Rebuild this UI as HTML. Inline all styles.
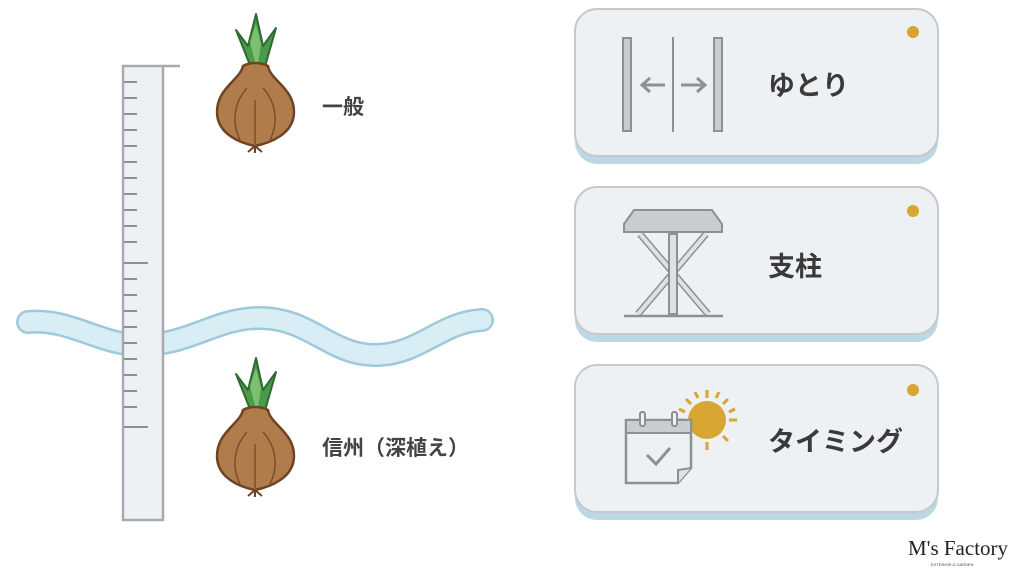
<!DOCTYPE html>
<html><head><meta charset="utf-8"><style>
html,body{margin:0;padding:0;background:#fff;}
svg{display:block}
text{font-family:"Liberation Sans","Noto Sans CJK JP",sans-serif;}
</style></head><body>
<svg width="1024" height="572" viewBox="0 0 1024 572" xmlns="http://www.w3.org/2000/svg">
<defs>
<g id="onion">
  <path d="M252,70 L236,30 L248,46 L256,14 L263,46 L276,28 L264,70 Z" fill="#4a9a4a" stroke="#2e6a32" stroke-width="2" stroke-linejoin="round"/>
  <path d="M257,70 L250,42 L256,24 L261,44 Z" fill="#7cc070"/>
  <path d="M243,66 C240,80 217,88 217,112 C217,134 240,143 255,146 C270,143 294,134 294,112 C294,88 270,80 268,66 C260,62 250,62 243,66 Z" fill="#b07c4c" stroke="#6e4424" stroke-width="2.5"/>
  <path d="M255,144 L255,100 M240,140 C230,120 236,100 247,88 M270,140 C280,120 274,100 263,88" stroke="#7a4e2a" stroke-width="1.5" fill="none"/>
  <path d="M255,146 L248,152 M255,146 L255,153 M255,146 L262,152" stroke="#6e4424" stroke-width="2" fill="none"/>
</g>
</defs>
<path d="M28,322 C70,318 100,345 140,345 C190,345 215,318 260,318 C310,318 330,355 375,355 C420,355 440,322 482,320" stroke="#9ec9dc" stroke-width="24" fill="none" stroke-linecap="round"/>
<path d="M28,322 C70,318 100,345 140,345 C190,345 215,318 260,318 C310,318 330,355 375,355 C420,355 440,322 482,320" stroke="#d9edf5" stroke-width="19" fill="none" stroke-linecap="round"/>
<rect x="123" y="66" width="40" height="454" fill="#eef1f3" stroke="#a7abaf" stroke-width="2.5"/>
<path d="M163,66 L180,66" stroke="#a7abaf" stroke-width="2.5"/>
<g stroke="#8c9094" stroke-width="2">
<path d="M124,82h13M124,98h13M124,114h13M124,130h13M124,146h13M124,162h13M124,178h13M124,194h13M124,210h13M124,226h13M124,242h13M124,263h24M124,279h13M124,295h13M124,311h13M124,327h13M124,343h13M124,359h13M124,375h13M124,391h13M124,407h13M124,427h24"/>
</g>
<use href="#onion"/>
<use href="#onion" transform="translate(0,344)"/>
<text x="322" y="114" font-size="21" font-weight="bold" fill="#444">一般</text>
<text x="322" y="455" font-size="21" font-weight="bold" fill="#444">信州（深植え）</text>
<g>
<rect x="575" y="14" width="363" height="150" rx="22" fill="#bcd8e4"/>
<rect x="575" y="9" width="363" height="147" rx="22" fill="#eef1f3" stroke="#c5c9cc" stroke-width="2"/>
<circle cx="913" cy="32" r="6" fill="#d6a532"/>
<rect x="575" y="192" width="363" height="150" rx="22" fill="#bcd8e4"/>
<rect x="575" y="187" width="363" height="147" rx="22" fill="#eef1f3" stroke="#c5c9cc" stroke-width="2"/>
<circle cx="913" cy="211" r="6" fill="#d6a532"/>
<rect x="575" y="370" width="363" height="150" rx="22" fill="#bcd8e4"/>
<rect x="575" y="365" width="363" height="147" rx="22" fill="#eef1f3" stroke="#c5c9cc" stroke-width="2"/>
<circle cx="913" cy="390" r="6" fill="#d6a532"/>
</g>
<rect x="623" y="38" width="8" height="93" fill="#c9cdd0" stroke="#8d9195" stroke-width="2"/>
<rect x="714" y="38" width="8" height="93" fill="#c9cdd0" stroke="#8d9195" stroke-width="2"/>
<path d="M673,37 V132" stroke="#8d9195" stroke-width="2"/>
<path d="M665,85 H642 M650,78 L642,85 L650,92 M681,85 H705 M697,78 L705,85 L697,92" stroke="#8d9195" stroke-width="3" fill="none"/>
<path d="M634,210 H712 L722,224 V232 H624 V224 Z" fill="#c9cdd0" stroke="#8d9195" stroke-width="2"/>
<path d="M640,234 L708,314 M706,234 L638,314" stroke="#8d9195" stroke-width="7"/>
<path d="M640,234 L708,314 M706,234 L638,314" stroke="#dfe2e4" stroke-width="4"/>
<rect x="669" y="234" width="8" height="80" fill="#dfe2e4" stroke="#8d9195" stroke-width="2"/>
<path d="M624,316 H723" stroke="#8d9195" stroke-width="2.5"/>
<g stroke="#d6a532" stroke-width="3">
<path d="M707,390v8M707,442v8M677,420h8M729,420h8M686,399l5,5M723,436l5,5M728,399l-5,5M686,441l5,-5M695,392l3,6M719,392l-3,6M679,409l6,3M735,409l-6,3"/>
</g>
<circle cx="707" cy="420" r="19" fill="#d6a532"/>
<path d="M626,420 H691 V468 L678,483 H626 Z" fill="#eef1f3" stroke="#8d9195" stroke-width="2.5"/>
<path d="M626,420 H691 V433 H626 Z" fill="#c9cdd0" stroke="#8d9195" stroke-width="2"/>
<path d="M691,468 L678,470 L678,483" fill="#dfe2e4" stroke="#8d9195" stroke-width="2"/>
<rect x="640" y="412" width="5" height="14" rx="2" fill="#eef1f3" stroke="#8d9195" stroke-width="2"/>
<rect x="672" y="412" width="5" height="14" rx="2" fill="#eef1f3" stroke="#8d9195" stroke-width="2"/>
<path d="M647,455 L656,464 L670,448" stroke="#8d9195" stroke-width="3" fill="none"/>
<text x="768" y="95" font-size="27" font-weight="bold" fill="#3a3a3a">ゆとり</text>
<text x="768" y="276" font-size="27" font-weight="bold" fill="#3a3a3a">支柱</text>
<text x="768" y="451" font-size="27" font-weight="bold" fill="#3a3a3a">タイミング</text>
<text x="908" y="555" font-size="21" fill="#222" style="font-family:'Liberation Serif',serif">M's Factory</text>
<text x="931" y="566" font-size="4" fill="#444" style="font-family:'Liberation Sans',sans-serif">EXTERIOR &amp; GARDEN</text>
</svg>
</body></html>
